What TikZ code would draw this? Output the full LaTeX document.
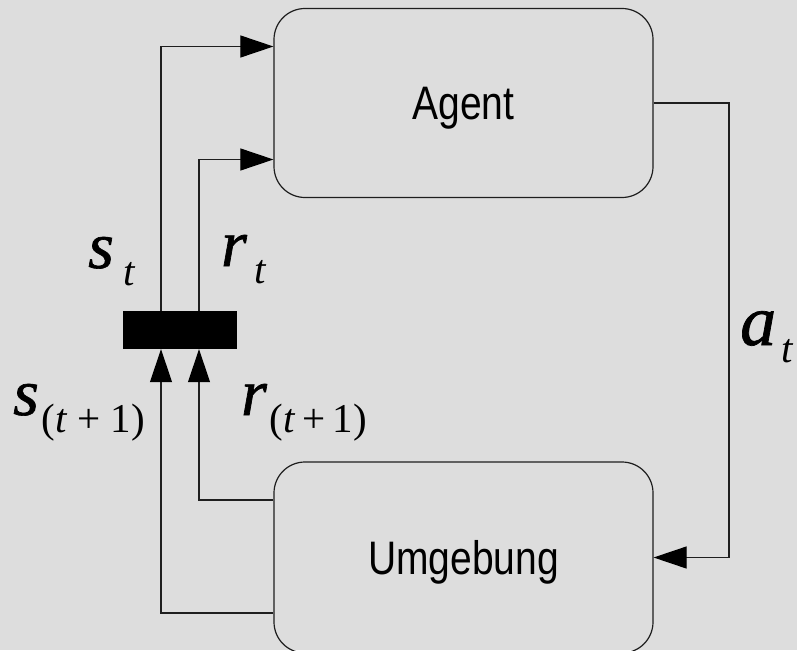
\documentclass[tikz,border=0pt]{standalone}
\usepackage{fontspec}
\usepackage{graphicx}
\setmainfont{Liberation Serif}
\newfontfamily\boxfont{Liberation Sans}
\newfontfamily\labit[FakeBold=1]{Liberation Serif Italic}
\usetikzlibrary{arrows.meta}
\definecolor{bgc}{RGB}{221,221,221}
\definecolor{linec}{RGB}{30,30,30}
\newcommand\bigit[2]{{\labit\fontsize{#1}{#1}\selectfont #2}}
\newcommand\subtx[1]{\raisebox{-17pt}{\fontsize{41}{41}\selectfont #1}}
\begin{document}
\begin{tikzpicture}[x=1pt,y=-1pt,
  conn/.style={draw=linec, line width=1.1pt},
  arr/.style={conn, -{Triangle[length=33pt,width=22pt,fill=black,color=black]}},
  blockbox/.style={draw=linec, line width=1.2pt, rounded corners=31pt,
    minimum width=379pt, inner sep=0pt,
    text height=34pt, text depth=0pt,
    font=\boxfont\fontsize{47}{47}\selectfont},
  lbl/.style={anchor=base west, inner sep=0pt}]
\fill[bgc] (0,0) rectangle (797,650);
\useasboundingbox (0,0) rectangle (797,650);

\node[blockbox, minimum height=189pt] (agent) at (463.5,103) {\scalebox{0.83}[1]{Agent}};
\node[blockbox, minimum height=191pt] (umg) at (463.5,557.5) {\scalebox{0.83}[1]{Umgebung}};
\node[fill=black, minimum width=114pt, minimum height=38pt, inner sep=0pt] (bar) at (180,330) {};
\coordinate (rt) at (729,330);

\draw[arr] ([yshift=-55.5pt]umg.west) -| ([xshift=-19pt]bar.south);
\draw[arr] ([yshift=57.5pt]umg.west) -| ([xshift=19pt]bar.south);
\draw[arr] ([xshift=-19pt]bar.north) |- ([yshift=56.5pt]agent.west);
\draw[arr] ([xshift=19pt]bar.north) |- ([yshift=-56.5pt]agent.west);
\draw[arr] (agent.east) -| (rt) |- (umg.east);

\node[lbl] (lst) at (88,268) {\bigit{66}{s}\hspace{10pt}\subtx{\itshape t}};
\node[lbl] (lrt) at (221,266) {\bigit{66}{r}\hspace{8pt}\subtx{\itshape t}};
\node[lbl] (lsn) at (13,415) {\bigit{66}{s}\hspace{3pt}\subtx{(\textit{t}\hspace{10pt}+\hspace{10pt}1)}};
\node[lbl] (lrn) at (241,415) {\bigit{66}{r}\hspace{3pt}\subtx{(\textit{t}\hspace{7pt}+\hspace{7pt}1)}};
\node[lbl] (lat) at (740,345) {\bigit{72}{a}\hspace{5pt}\subtx{\itshape t}};
\end{tikzpicture}
\end{document}
